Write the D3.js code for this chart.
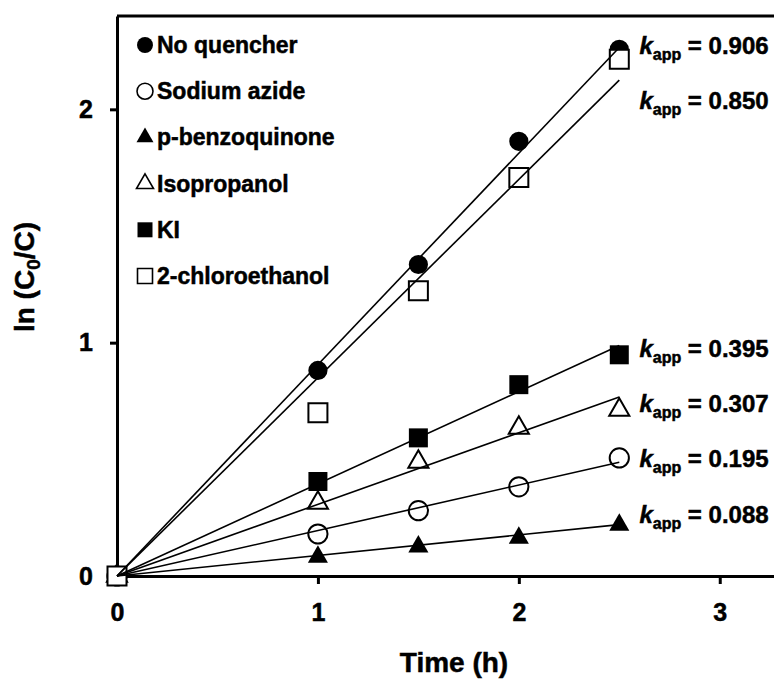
<!DOCTYPE html>
<html><head><meta charset="utf-8">
<script src="https://cdn.jsdelivr.net/npm/d3@7"></script>
<style>
body{margin:0;background:#fff}
text{font-family:"Liberation Sans",Arial,sans-serif;font-weight:bold;fill:#000;stroke:#000;stroke-width:0.5px}
</style>
</head><body><svg id="c" width="774" height="680"></svg>
<script>
// ---- data ----
const time = [0, 1, 1.5, 2, 2.5];
const seriesNames = ["No quencher", "Sodium azide", "p-benzoquinone", "Isopropanol", "KI", "2-chloroethanol"];
const noQuencher    = [0, 0.881, 1.335, 1.863, 2.257];
const sodiumAzide   = [0, 0.180, 0.280, 0.382, 0.506];
const pBenzoquinone = [0, 0.082, 0.126, 0.163, 0.219];
const isopropanol   = [0, 0.313, 0.489, 0.635, 0.712];
const potassiumIodide = [0, 0.405, 0.592, 0.820, 0.948];
const chloroethanol = [0, 0.700, 1.223, 1.708, 2.215];
const kApp    = [0.906, 0.195, 0.088, 0.307, 0.395, 0.850];
const kLabelY = [2.236, 0.468, 0.227, 0.704, 0.940, 2.000];
const markerShapes = ["circle", "circle", "triangle", "triangle", "square", "square"];
const markerFilled = [true, false, true, false, true, false];
const xTicks = [0, 1, 2, 3];
const yTicks = [0, 1, 2];
const xTitle = "Time (h)";

const seriesValues = [noQuencher, sodiumAzide, pBenzoquinone, isopropanol, potassiumIodide, chloroethanol];
const series = seriesNames.map((n, i) => ({
  name: n, values: seriesValues[i], k: kApp[i], ky: kLabelY[i],
  shape: markerShapes[i], filled: markerFilled[i]
}));

// ---- layout ----
const svg = d3.select("#c");
const x = d3.scaleLinear().domain([0, 3.27]).range([117, 774]);
const y = d3.scaleLinear().domain([0, 2.4]).range([576, 16]);

const symType = {circle: d3.symbolCircle, triangle: d3.symbolTriangle, square: d3.symbolSquare};
const plotSize = {circle: 290, triangle: 175, square: 361};
const legSize = {circle: 200, triangle: 125, square: 225};

// frame top
svg.append("line").attr("x1", x(0)).attr("x2", 774).attr("y1", y(2.4)).attr("y2", y(2.4))
  .attr("stroke", "#000").attr("stroke-width", 3);

// axes
const yAxis = svg.append("g").attr("transform", `translate(${x(0)},0)`)
  .call(d3.axisLeft(y).tickValues(yTicks).tickFormat(d3.format("d")).tickSize(7).tickSizeOuter(0).tickPadding(17));
const xAxis = svg.append("g").attr("transform", `translate(0,${y(0)})`)
  .call(d3.axisBottom(x).tickValues(xTicks).tickFormat(d3.format("d")).tickSize(8).tickSizeOuter(0).tickPadding(19));
[yAxis, xAxis].forEach(g => {
  g.select(".domain").attr("stroke-width", 3);
  g.selectAll(".tick line").attr("stroke-width", 3);
  g.selectAll(".tick text").attr("font-size", 25).attr("font-family", '"Liberation Sans",Arial,sans-serif').attr("font-weight", "bold");
});

// markers
const gm = svg.append("g");
series.forEach(s => {
  gm.selectAll(null).data(s.values.map((v, j) => [time[j], v])).join("path")
    .attr("transform", d => `translate(${x(d[0])},${y(d[1])})`)
    .attr("d", d3.symbol().type(symType[s.shape]).size(plotSize[s.shape]))
    .attr("fill", s.filled ? "#000" : "#fff")
    .attr("stroke", "#000").attr("stroke-width", s.filled ? 0 : 2);
});

// fit lines through origin
const tMax = d3.max(time);
const line = d3.line().x(d => x(d[0])).y(d => y(d[1]));
series.forEach(s => {
  svg.append("path").attr("d", line([[0, 0], [tMax, s.k * tMax]]))
    .attr("fill", "none").attr("stroke", "#000").attr("stroke-width", 1.6);
});

// k labels
series.forEach(s => {
  const t = svg.append("text").attr("x", x(2.6)).attr("y", y(s.ky)).attr("font-size", 24);
  t.append("tspan").attr("font-style", "italic").text("k");
  t.append("tspan").attr("font-size", 16).attr("dy", 6).text("app");
  t.append("tspan").attr("dy", -6).text(" = " + s.k.toFixed(3));
});

// legend
const lg = svg.append("g");
series.forEach((s, i) => {
  const cy = 45 + i * 46.2;
  lg.append("path").attr("transform", `translate(145,${cy})`)
    .attr("d", d3.symbol().type(symType[s.shape]).size(legSize[s.shape]))
    .attr("fill", s.filled ? "#000" : "#fff").attr("stroke", "#000").attr("stroke-width", s.filled ? 0 : 1.6);
  lg.append("text").attr("x", 157).attr("y", cy + 8).attr("font-size", 23).text(s.name);
});

// axis titles
svg.append("text").attr("x", 454).attr("y", 672).attr("text-anchor", "middle").attr("font-size", 28).text(xTitle);
const yt = svg.append("text").attr("transform", "translate(34,277) rotate(-90)").attr("text-anchor", "middle").attr("font-size", 28);
yt.append("tspan").text("ln (C");
yt.append("tspan").attr("font-size", 19).attr("dy", 6).text("0");
yt.append("tspan").attr("dy", -6).text("/C)");
</script>
</body></html>
